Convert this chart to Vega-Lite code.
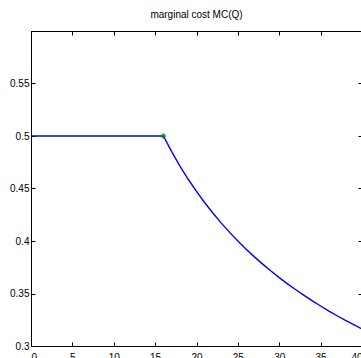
{
  "$schema": "https://vega.github.io/schema/vega-lite/v6.json",
  "width": 331,
  "height": 315,
  "padding": {"left": 31, "top": 31, "right": 0, "bottom": 12},
  "autosize": {"type": "none"},
  "background": "white",
  "title": {"text": "marginal cost MC(Q)", "font": "Liberation Sans", "fontSize": 10, "fontWeight": "normal", "color": "#000000", "offset": 11},
  "config": {
    "view": {"stroke": "#000000", "strokeWidth": 1},
    "axis": {
      "grid": false,
      "domainColor": "#000000",
      "tickColor": "#000000",
      "tickSize": -4,
      "labelFont": "Liberation Sans",
      "labelFontSize": 10,
      "labelColor": "#000000",
      "titleFontSize": 0,
      "format": "~g"
    }
  },
  "datasets": {
    "curve": [
      {"Q": 0, "MC": 0.5}, {"Q": 16, "MC": 0.5}, {"Q": 17, "MC": 0.4851}, {"Q": 18, "MC": 0.4714},
      {"Q": 19, "MC": 0.4588}, {"Q": 20, "MC": 0.4472}, {"Q": 21, "MC": 0.4364}, {"Q": 22, "MC": 0.4264},
      {"Q": 23, "MC": 0.417}, {"Q": 24, "MC": 0.4082}, {"Q": 25, "MC": 0.4}, {"Q": 26, "MC": 0.3922},
      {"Q": 27, "MC": 0.3849}, {"Q": 28, "MC": 0.378}, {"Q": 29, "MC": 0.3714}, {"Q": 30, "MC": 0.3651},
      {"Q": 31, "MC": 0.3592}, {"Q": 32, "MC": 0.3536}, {"Q": 33, "MC": 0.3482}, {"Q": 34, "MC": 0.343},
      {"Q": 35, "MC": 0.3381}, {"Q": 36, "MC": 0.3333}, {"Q": 37, "MC": 0.3288}, {"Q": 38, "MC": 0.3244},
      {"Q": 39, "MC": 0.3203}, {"Q": 40, "MC": 0.3162}
    ],
    "kink": [{"Q": 16, "MC": 0.5}]
  },
  "layer": [
    {
      "data": {"name": "curve"},
      "mark": {"type": "line", "color": "#0000ff", "strokeWidth": 1.4, "clip": true},
      "encoding": {
        "x": {"field": "Q", "type": "quantitative", "scale": {"domain": [0, 40], "nice": false},
              "axis": {"orient": "bottom", "values": [0,5,10,15,20,25,30,35,40], "labelPadding": 10, "format": "~g", "title": null}},
        "y": {"field": "MC", "type": "quantitative", "scale": {"domain": [0.3, 0.6], "nice": false, "zero": false},
              "axis": {"orient": "left", "values": [0.3,0.35,0.4,0.45,0.5,0.55], "labelPadding": 6, "format": "~g", "title": null}}
      }
    },
    {
      "data": {"name": "kink"},
      "mark": {"type": "point", "shape": "diamond", "filled": true, "color": "#008000", "size": 40},
      "encoding": {
        "x": {"field": "Q", "type": "quantitative",
              "axis": {"orient": "top", "values": [0,5,10,15,20,25,30,35,40], "labels": false, "title": null}},
        "y": {"field": "MC", "type": "quantitative",
              "axis": {"orient": "right", "values": [0.3,0.35,0.4,0.45,0.5,0.55], "labels": false, "title": null}}
      }
    }
  ]
}
